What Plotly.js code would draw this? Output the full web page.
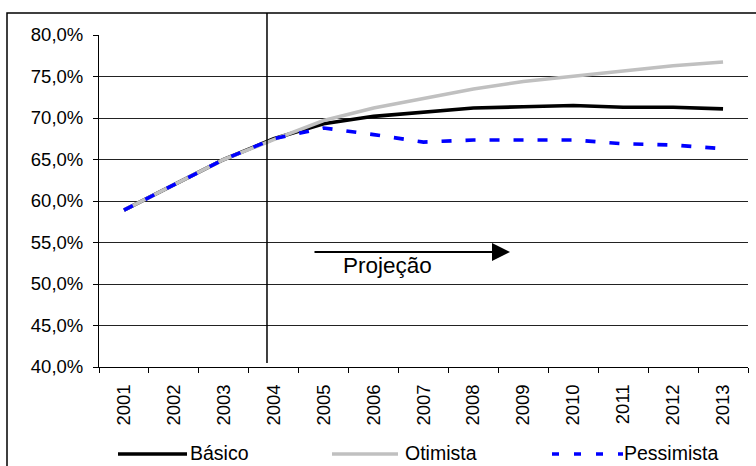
<!DOCTYPE html>
<html>
<head>
<meta charset="utf-8">
<script src="https://cdn.plot.ly/plotly-3.0.1.min.js"></script>
<style>html,body{margin:0;padding:0;background:#fff}#chart{width:756px;height:466px}</style>
</head>
<body>
<div id="chart"></div>
<script>
var years = ['2001','2002','2003','2004','2005','2006','2007','2008','2009','2010','2011','2012','2013'];
var basico = [58.9, 62.0, 65.0, 67.5, 69.3, 70.2, 70.7, 71.2, 71.35, 71.5, 71.3, 71.3, 71.1];
var otimista = [58.9, 62.0, 65.0, 67.4, 69.7, 71.2, 72.4, 73.5, 74.4, 75.0, 75.7, 76.3, 76.75];
var pessimista = [58.9, 62.0, 65.0, 67.5, 68.8, 68.0, 67.1, 67.35, 67.35, 67.35, 66.9, 66.75, 66.3];
var seriesNames = ['Básico', 'Otimista', 'Pessimista'];
var yTicks = [40, 45, 50, 55, 60, 65, 70, 75, 80];
var yTickText = yTicks.map(function (v) { return v.toFixed(1).replace('.', ',') + '%'; });
var projectionStart = 2.865;
var projectionLabel = 'Projeção';

var font = 'Liberation Sans, Arial, sans-serif';
var colors = ['#000000', '#c0c0c0', '#0000ff'];
var dashes = ['solid', 'solid', '10px,14px'];
var values = [basico, otimista, pessimista];

var traces = values.map(function (v, i) {
  return {x: years, y: v, name: seriesNames[i], type: 'scatter', mode: 'lines',
          line: {color: colors[i], width: 3.6, dash: dashes[i]}, showlegend: false};
});

// legend drawn in paper coordinates below the plot
var W = 649, H = 332, L = 99, B = 367;
function px(x) { return (x - L) / W; }
function py(y) { return (B - y) / H; }
var legendSamples = [[118, 187], [332, 398], [552, 623]];
var legendTextX = [188, 403, 622];
var legendY = 454;
var legendDash = ['solid', 'solid', '7px,15px'];

var shapes = [
  {type: 'line', xref: 'x', yref: 'paper', x0: projectionStart, x1: projectionStart, y0: 0.012, y1: py(13),
   line: {color: '#000', width: 1.5}},
  {type: 'rect', xref: 'paper', yref: 'paper', x0: px(7), x1: px(762), y0: py(475), y1: py(13),
   line: {color: '#000', width: 1.5}, fillcolor: 'rgba(0,0,0,0)'}
];
var annotations = [
  {xref: 'paper', yref: 'paper', x: px(510), y: py(252), ax: -197, ay: 0, text: '',
   showarrow: true, arrowhead: 2, arrowsize: 1.8, arrowwidth: 2, arrowcolor: '#000'},
  {xref: 'paper', yref: 'paper', x: px(387), y: py(265), text: projectionLabel, showarrow: false,
   font: {family: font, size: 22.5, color: '#000'}, xanchor: 'center', yanchor: 'middle'}
];
seriesNames.forEach(function (n, i) {
  shapes.push({type: 'line', xref: 'paper', yref: 'paper', x0: px(legendSamples[i][0]), x1: px(legendSamples[i][1]),
               y0: py(legendY), y1: py(legendY), line: {color: colors[i], width: 3.6, dash: legendDash[i]}});
  annotations.push({xref: 'paper', yref: 'paper', x: px(legendTextX[i]), y: py(legendY - 1), text: n,
                    showarrow: false, xanchor: 'left', yanchor: 'middle',
                    font: {family: font, size: 19.5, color: '#000'}});
});

var layout = {
  width: 756, height: 466,
  margin: {l: 99, r: 8, t: 35, b: 99, autoexpand: false},
  paper_bgcolor: '#ffffff', plot_bgcolor: '#ffffff',
  font: {family: font, size: 18, color: '#000'},
  showlegend: false,
  xaxis: {type: 'category', range: [-0.5, 12.5], tickson: 'boundaries', ticks: 'outside', ticklen: 5,
          tickcolor: '#000', showline: true, linecolor: '#000', linewidth: 1, showgrid: false,
          tickangle: -90, tickfont: {family: font, size: 18.5}, ticklabelstandoff: 9,
          zeroline: false, fixedrange: true},
  yaxis: {range: [40, 80], tickvals: yTicks, ticktext: yTickText, ticks: 'outside', ticklen: 5,
          tickcolor: '#000', showline: true, linecolor: '#000', linewidth: 1, showgrid: true,
          gridcolor: '#222222', gridwidth: 1, zeroline: false, tickfont: {family: font, size: 18.5},
          ticklabelstandoff: 6, fixedrange: true},
  shapes: shapes,
  annotations: annotations
};
Plotly.newPlot('chart', traces, layout, {displayModeBar: false, staticPlot: true});
</script>
</body>
</html>
